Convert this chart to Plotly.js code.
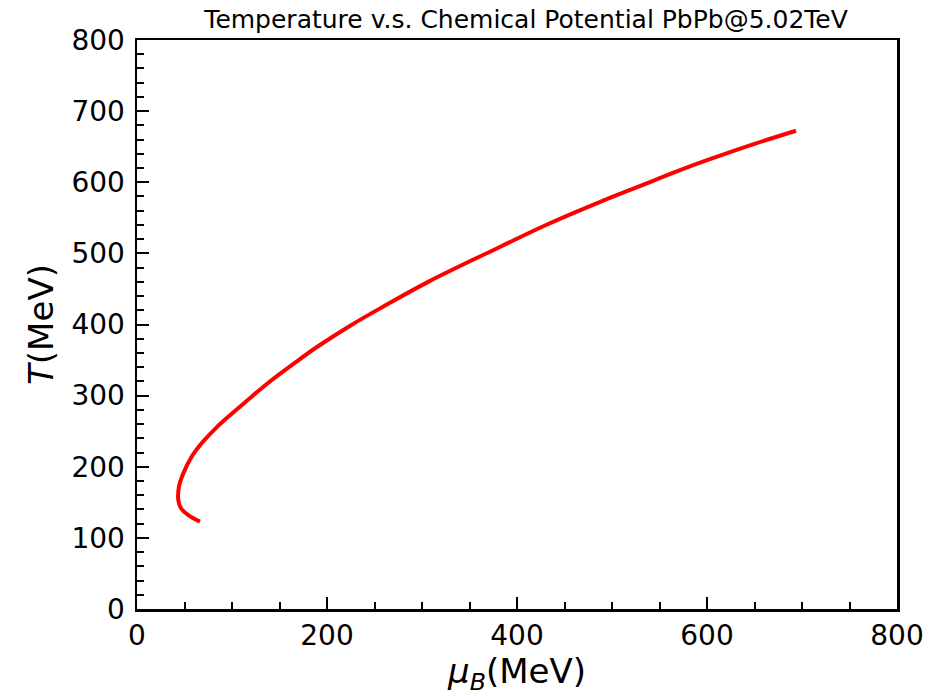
<!DOCTYPE html>
<html>
<head>
<meta charset="utf-8">
<script src="https://cdn.plot.ly/plotly-3.0.1.min.js"></script>
<style>html,body{margin:0;padding:0;background:#fff;}#chart{width:939px;height:696px;}</style>
</head>
<body>
<div id="chart"></div>
<script>
// Chemical potential mu_B (MeV) and temperature T (MeV)
const muB = [66.3, 54, 46.3, 43.5, 44.2, 48.8, 57.5, 68, 82, 99.7, 115.8, 138.6, 165, 189, 224, 259, 308, 382, 430, 487, 530, 571.6, 600, 650, 693.7];
const temperature = [122.8, 132, 141.6, 153, 172, 190.8, 214, 233, 253, 274.5, 293, 318.5, 345, 368, 398, 425, 461, 509, 539.5, 572, 595, 617, 631, 654, 672.4];
const xTicks = [0, 200, 400, 600, 800];
const yTicks = [0, 100, 200, 300, 400, 500, 600, 700, 800];

const font = 'DejaVu Sans, sans-serif';
const trace = {
  x: muB, y: temperature, type: 'scatter', mode: 'lines',
  line: {color: '#ff0000', width: 4, shape: 'spline', smoothing: 1},
  hoverinfo: 'skip'
};
const axisCommon = {
  showgrid: false, zeroline: false, showline: true, linecolor: '#000', linewidth: 2.5,
  mirror: true, ticks: 'inside', ticklen: 12, tickwidth: 2, tickcolor: '#000',
  tickfont: {family: font, size: 28, color: '#000'}
};
const layout = {
  width: 939, height: 696,
  margin: {l: 137, r: 42, t: 40, b: 87},
  paper_bgcolor: '#fff', plot_bgcolor: '#fff',
  showlegend: false,
  title: {text: 'Temperature v.s. Chemical Potential PbPb@5.02TeV', font: {family: font, size: 25, color: '#000'},
          x: 0.512, xanchor: 'center', xref: 'paper', y: 0.972, yref: 'container', yanchor: 'middle'},
  xaxis: Object.assign({}, axisCommon, {
    range: [0, 800], tickvals: xTicks, ticktext: xTicks.map(String),
    minor: {dtick: 50, tick0: 0, ticks: 'inside', ticklen: 7, tickwidth: 2, tickcolor: '#000'},
    title: {text: '<i>μ</i><sub><i>B</i></sub>(MeV)', font: {family: font, size: 34, color: '#000'}, standoff: 6}
  }),
  yaxis: Object.assign({}, axisCommon, {
    range: [0, 800], tickvals: yTicks, ticktext: yTicks.map(String),
    minor: {dtick: 20, tick0: 0, ticks: 'inside', ticklen: 7, tickwidth: 2, tickcolor: '#000'},
    ticklabelstandoff: 4,
    title: {text: '<i>T</i>(MeV)', font: {family: font, size: 34, color: '#000'}, standoff: 8}
  })
};
Plotly.newPlot('chart', [trace], layout, {displayModeBar: false, staticPlot: true});
</script>
</body>
</html>
